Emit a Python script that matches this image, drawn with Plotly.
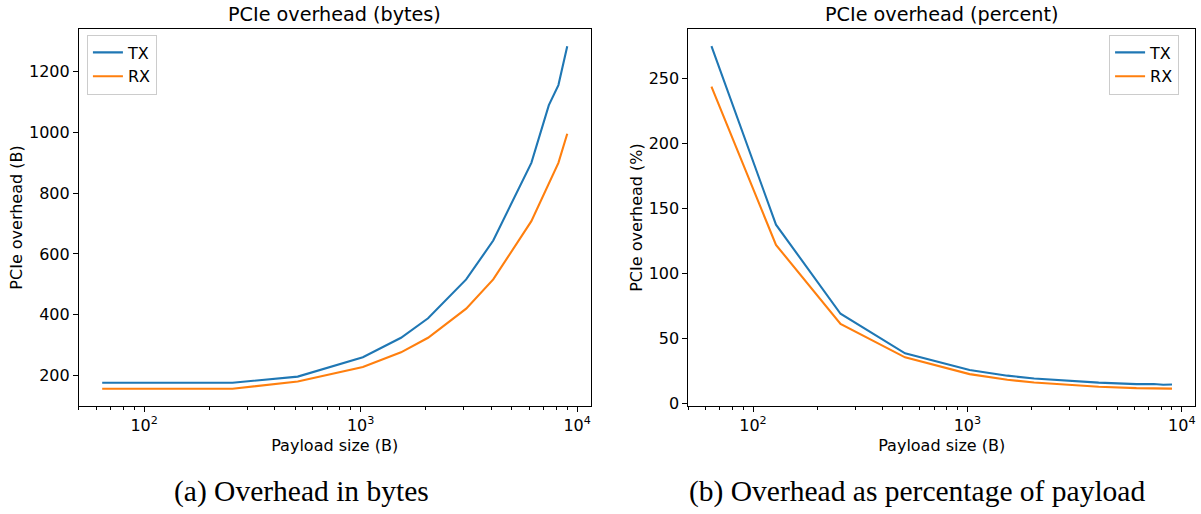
import math
import plotly.graph_objects as go

# ---- data ----
payload = [64, 128, 256, 512, 1024, 1536, 2048, 3072, 4096, 6144, 7400, 8192, 9000]
tx_bytes = [176, 176, 176, 196, 260, 324, 388, 516, 644, 900, 1090, 1156, 1284]
rx_bytes = [156, 156, 156, 180, 228, 276, 324, 420, 516, 708, 830, 900, 996]
tx_pct = [275, 137.5, 68.8, 38.3, 25.4, 21.1, 18.9, 16.8, 15.7, 14.6, 14.7, 14.1, 14.3]
rx_pct = [243.8, 121.9, 60.9, 35.2, 22.3, 18.0, 15.8, 13.7, 12.6, 11.5, 11.2, 11.0, 11.1]

series_names = ["TX", "RX"]
x_major = [100, 1000, 10000]
x_major_text = ["10<sup>2</sup>", "10<sup>3</sup>", "10<sup>4</sup>"]
y_bytes_ticks = [200, 400, 600, 800, 1000, 1200]
y_pct_ticks = [0, 50, 100, 150, 200, 250]

W, H = 1201, 514
BLUE, ORANGE = "#1f77b4", "#ff7f0e"
FONT = "DejaVu Sans"
LW = 2.1


def padded(lo, hi, frac=0.05):
    s = hi - lo
    return [lo - s * frac, hi + s * frac]


xr = padded(math.log10(min(payload)), math.log10(max(payload)))
minor_vals = [m * 10 ** e for e in (1, 2, 3) for m in range(2, 10)]
minor_vals = [v for v in minor_vals if xr[0] <= math.log10(v) <= xr[1]]

fig = go.Figure()
fig.add_trace(go.Scatter(x=payload, y=tx_bytes, name=series_names[0], mode="lines",
                         line=dict(color=BLUE, width=LW), xaxis="x", yaxis="y", legend="legend"))
fig.add_trace(go.Scatter(x=payload, y=rx_bytes, name=series_names[1], mode="lines",
                         line=dict(color=ORANGE, width=LW), xaxis="x", yaxis="y", legend="legend"))
fig.add_trace(go.Scatter(x=payload, y=tx_pct, name=series_names[0], mode="lines",
                         line=dict(color=BLUE, width=LW), xaxis="x2", yaxis="y2", legend="legend2"))
fig.add_trace(go.Scatter(x=payload, y=rx_pct, name=series_names[1], mode="lines",
                         line=dict(color=ORANGE, width=LW), xaxis="x2", yaxis="y2", legend="legend2"))


def px_x(p):
    return p / W


def px_y(p):
    return 1 - p / H


def xaxis_cfg(dom, anchor):
    return dict(domain=dom, anchor=anchor, type="log", range=xr,
                tickmode="array", tickvals=x_major, ticktext=x_major_text,
                ticks="outside", ticklen=5, tickwidth=1, tickcolor="black",
                showline=True, linecolor="black", linewidth=1, mirror=True,
                showgrid=False, zeroline=False,
                tickfont=dict(family=FONT, size=16, color="black"),
                minor=dict(tickmode="array", tickvals=minor_vals, ticks="outside",
                           ticklen=3, tickwidth=1, tickcolor="black", showgrid=False),
                title=dict(text="Payload size (B)", standoff=5,
                           font=dict(family=FONT, size=16, color="black")))


def yaxis_cfg(dom, anchor, rng, tv, title):
    return dict(domain=dom, anchor=anchor, range=rng,
                tickmode="array", tickvals=tv,
                ticks="outside", ticklen=5, tickwidth=1, tickcolor="black",
                showline=True, linecolor="black", linewidth=1, mirror=True,
                showgrid=False, zeroline=False,
                tickfont=dict(family=FONT, size=16, color="black"),
                title=dict(text=title, standoff=2,
                           font=dict(family=FONT, size=16, color="black")))


ydom = [px_y(411.5), px_y(29.5)]
left_dom = [px_x(79), px_x(591)]
right_dom = [px_x(689), px_x(1196)]

legend_style = dict(bgcolor="rgba(255,255,255,0.8)", bordercolor="#cccccc", borderwidth=1,
                    font=dict(family=FONT, size=16, color="black"),
                    tracegroupgap=0, itemwidth=30)

fig.update_layout(
    width=W, height=H,
    margin=dict(l=0, r=0, t=0, b=0),
    paper_bgcolor="white", plot_bgcolor="white",
    font=dict(family=FONT, size=16, color="black"),
    xaxis=xaxis_cfg(left_dom, "y"),
    yaxis=yaxis_cfg(ydom, "x", padded(min(rx_bytes), max(tx_bytes)), y_bytes_ticks, "PCIe overhead (B)"),
    xaxis2=xaxis_cfg(right_dom, "y2"),
    yaxis2=yaxis_cfg(ydom, "x2", padded(min(rx_pct), max(tx_pct)), y_pct_ticks, "PCIe overhead (%)"),
    legend=dict(x=px_x(87), y=px_y(35), xanchor="left", yanchor="top", **legend_style),
    legend2=dict(x=px_x(1110), y=px_y(35), xanchor="left", yanchor="top", **legend_style),
    showlegend=True,
)

annotations = [
    dict(text="PCIe overhead (bytes)", x=(left_dom[0] + left_dom[1]) / 2, y=px_y(15),
         font=dict(family=FONT, size=19.2, color="black")),
    dict(text="PCIe overhead (percent)", x=(right_dom[0] + right_dom[1]) / 2, y=px_y(15),
         font=dict(family=FONT, size=19.2, color="black")),
    dict(text="(a) Overhead in bytes", x=px_x(302), y=px_y(498),
         font=dict(family="Liberation Serif", size=29.5, color="black")),
    dict(text="(b) Overhead as percentage of payload", x=px_x(918), y=px_y(498),
         font=dict(family="Liberation Serif", size=29.5, color="black")),
]
for a in annotations:
    a.update(xref="paper", yref="paper", showarrow=False, xanchor="center", yanchor="middle")
fig.update_layout(annotations=annotations)

fig.write_html(
    "out.html",
    config={"displayModeBar": False},
    post_script="document.body.style.margin='0';document.body.style.overflow='hidden';",
)
